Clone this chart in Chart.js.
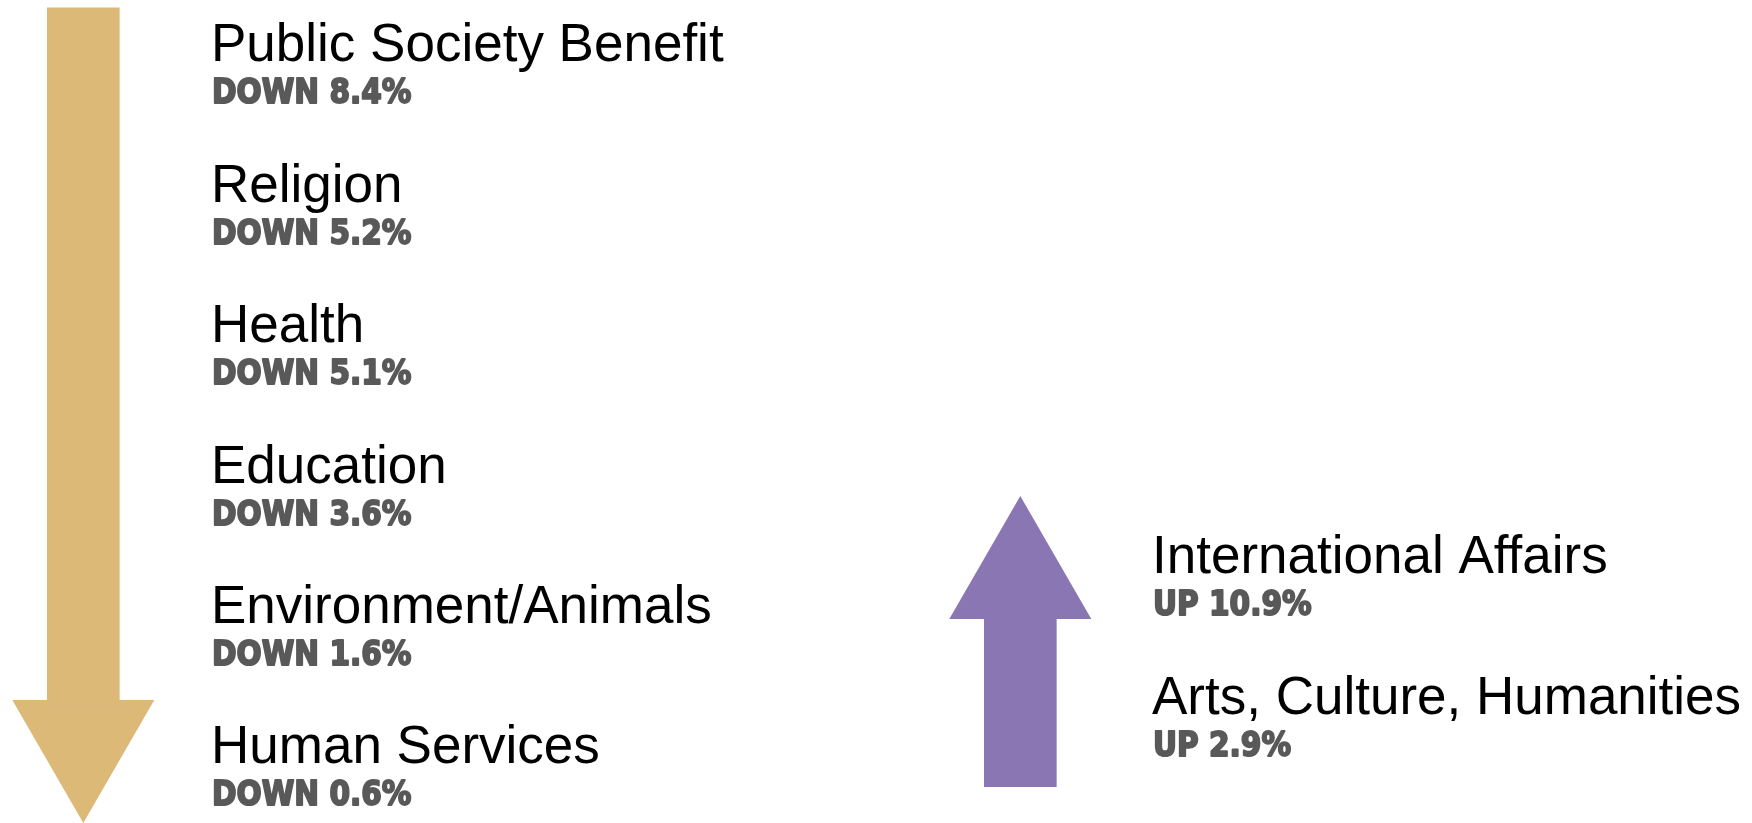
<!DOCTYPE html>
<html lang="en">
<head>
<meta charset="UTF-8">
<title>Giving by sector</title>
<script src="https://cdn.jsdelivr.net/npm/chart.js"></script>
<style>
  html, body { margin: 0; padding: 0; background: #fff; }
  #wrap { width: 1752px; height: 823px; }
</style>
</head>
<body>
<div id="wrap"><canvas id="sectorChart"></canvas></div>
<script>
  // sectors that went down, top to bottom
  const downCategories = ['Public Society Benefit', 'Religion', 'Health', 'Education', 'Environment/Animals', 'Human Services'];
  const downChanges = [8.4, 5.2, 5.1, 3.6, 1.6, 0.6];
  // sectors that went up
  const upCategories = ['International Affairs', 'Arts, Culture, Humanities'];
  const upChanges = [10.9, 2.9];

  // layout in axis units (x runs across the page, y counts text rows)
  const downColumn = 211, upColumn = 1152;
  const upRowStart = 3.646;
  const downArrow = { x: 83.3, top: -0.383, headBase: 4.6, head: 4.84 };
  const upArrow = { x: 1020.3, bottom: 5.165, headBase: 3.95, head: 3.679 };

  const gold = '#DDB978';
  const purple = '#8A76B3';

  const labelPoints = [];
  const labelTexts = [];
  downCategories.forEach((c, i) => {
    labelPoints.push({ x: downColumn, y: i });
    labelTexts.push([c, 'DOWN ' + downChanges[i].toFixed(1) + '%']);
  });
  upCategories.forEach((c, i) => {
    labelPoints.push({ x: upColumn, y: upRowStart + i });
    labelTexts.push([c, 'UP ' + upChanges[i].toFixed(1) + '%']);
  });

  // writes the sector name and its change next to each anchor point
  const labelPlugin = {
    id: 'sectorLabels',
    afterDatasetsDraw(chart) {
      const ctx = chart.ctx;
      const meta = chart.getDatasetMeta(2);
      meta.data.forEach((pt, i) => {
        ctx.save();
        ctx.textBaseline = 'alphabetic';
        ctx.textAlign = 'left';
        ctx.fillStyle = '#000';
        ctx.font = '53px "Liberation Sans", Arial, sans-serif';
        ctx.fillText(labelTexts[i][0], pt.x, pt.y);

        ctx.translate(pt.x + 1, pt.y + 42);
        ctx.scale(0.87, 1);
        ctx.font = 'bold 34px "DejaVu Sans", sans-serif';
        ctx.fillStyle = '#595959';
        ctx.strokeStyle = '#595959';
        ctx.lineWidth = 2;
        ctx.lineJoin = 'round';
        ctx.fillText(labelTexts[i][1], 0, 0);
        ctx.strokeText(labelTexts[i][1], 0, 0);
        ctx.restore();
      });
    }
  };

  const ctx = document.getElementById('sectorChart').getContext('2d');
  const chart = new Chart(ctx, {
    type: 'bar',
    data: {
      datasets: [
        {
          // arrow shafts
          type: 'bar',
          data: [
            { x: downArrow.x, y: [downArrow.top, downArrow.headBase] },
            { x: upArrow.x, y: [upArrow.headBase, upArrow.bottom] }
          ],
          backgroundColor: [gold, purple],
          borderWidth: 0,
          barThickness: 72,
          grouped: false
        },
        {
          // arrow heads
          type: 'scatter',
          data: [
            { x: downArrow.x, y: downArrow.head },
            { x: upArrow.x, y: upArrow.head }
          ],
          pointStyle: 'triangle',
          rotation: [180, 0],
          pointRadius: 82,
          backgroundColor: [gold, purple],
          borderWidth: 0,
          clip: false
        },
        {
          // text anchors
          type: 'scatter',
          data: labelPoints,
          pointRadius: 0,
          clip: false
        }
      ]
    },
    options: {
      responsive: true,
      maintainAspectRatio: false,
      animation: false,
      events: [],
      layout: { padding: 0, autoPadding: false },
      plugins: { legend: { display: false }, tooltip: { enabled: false } },
      scales: {
        x: { type: 'linear', min: 0, max: 1752, offset: false, display: false },
        y: { type: 'linear', min: -0.438, max: 5.424, reverse: true, display: false }
      }
    },
    plugins: [labelPlugin]
  });
</script>
</body>
</html>
